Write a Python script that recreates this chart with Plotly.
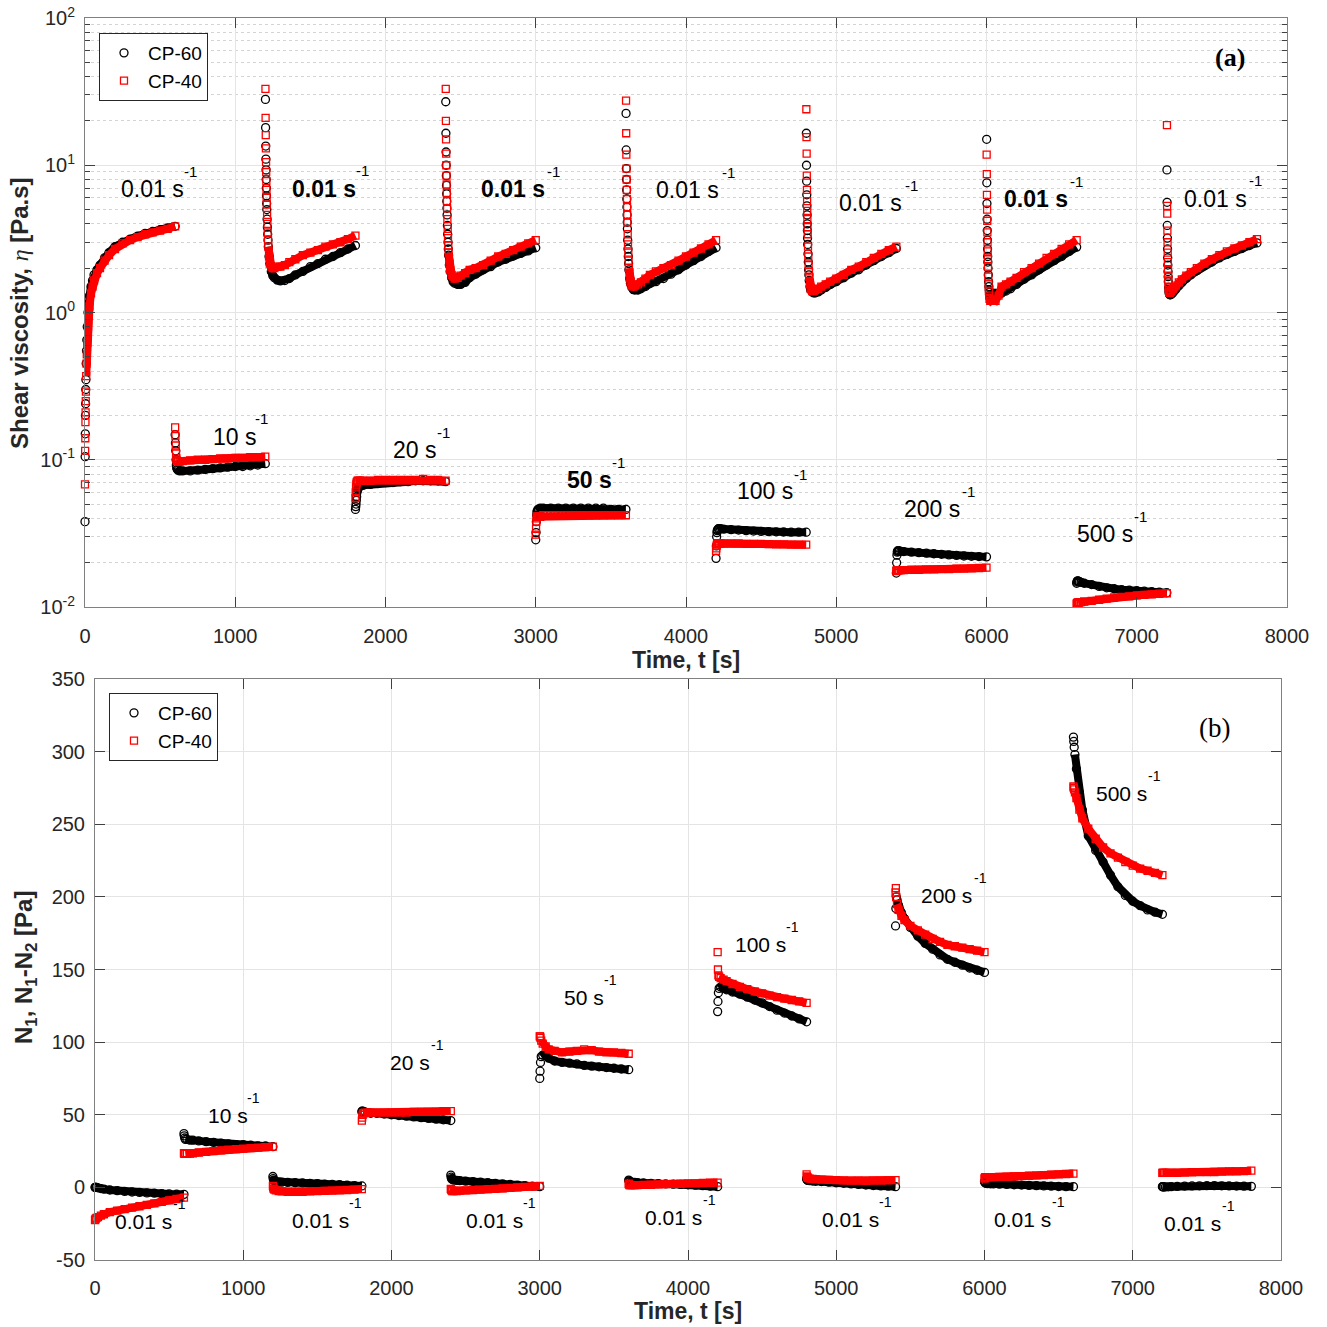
import math
import plotly.graph_objects as go

# ---------------- data ----------------
seg_start = [0, 600, 1200, 1800, 2400, 3000, 3600, 4200, 4800, 5400, 6000, 6600, 7200]

# time offsets (s) inside a segment
off_first = [0, 1, 2, 3, 4, 5, 6, 8, 10, 12, 15, 20, 25, 30, 40, 50, 60, 80, 100, 130, 160,
             200, 250, 300, 350, 400, 450, 500, 550, 600]
off_rec = [1, 2, 3, 4, 5, 6, 7, 8, 9, 10, 12, 14, 16, 18, 20, 25, 30, 40, 50, 60, 80, 100,
           130, 160, 200, 250, 300, 350, 400, 450, 500, 550, 600]
off_high = [0, 2, 4, 6, 8, 10, 15, 20, 30, 50, 100, 150, 200, 250, 300, 350, 400, 450, 500, 550, 600]
off_b = [0, 2, 5, 10, 20, 40, 60, 100, 150, 200, 250, 300, 350, 400, 450, 500, 550, 600]

# (a) shear viscosity [Pa.s]
eta60_0 = [0.038, 0.105, 0.15, 0.20, 0.24, 0.30, 0.35, 0.45, 0.55, 0.65, 0.8, 1.0, 1.15, 1.3, 1.5,
           1.65, 1.8, 1.95, 2.1, 2.35, 2.55, 2.8, 3.0, 3.15, 3.3, 3.45, 3.55, 3.65, 3.75, 3.85]
eta40_0 = [0.068, 0.115, 0.14, 0.18, 0.21, 0.25, 0.29, 0.37, 0.45, 0.52, 0.62, 0.8, 0.95, 1.1, 1.35,
           1.5, 1.65, 1.85, 2.0, 2.25, 2.45, 2.7, 2.95, 3.1, 3.25, 3.4, 3.5, 3.6, 3.7, 3.85]
eta60_1 = [0.148, 0.13, 0.115, 0.1, 0.092, 0.088, 0.086, 0.085, 0.084, 0.084, 0.084, 0.085, 0.086,
           0.087, 0.088, 0.089, 0.09, 0.09, 0.091, 0.092, 0.094]
eta40_1 = [0.166, 0.145, 0.125, 0.11, 0.102, 0.099, 0.098, 0.097, 0.097, 0.098, 0.099, 0.1, 0.1,
           0.101, 0.102, 0.102, 0.103, 0.103, 0.104, 0.104, 0.105]
eta60_2 = [28, 18, 13.5, 11, 9.3, 8, 7, 6.2, 5.5, 5, 4.3, 3.8, 3.4, 3.1, 2.8, 2.4, 2.15, 1.9, 1.78,
           1.72, 1.66, 1.64, 1.65, 1.7, 1.8, 1.9, 2.05, 2.15, 2.3, 2.4, 2.55, 2.7, 2.85]
eta40_2 = [33, 21, 16, 13, 10.5, 9, 7.8, 6.8, 6, 5.4, 4.6, 4, 3.5, 3.1, 2.8, 2.4, 2.15, 2.05, 2.0,
           2.0, 2.05, 2.05, 2.1, 2.2, 2.3, 2.45, 2.55, 2.65, 2.8, 2.9, 3.0, 3.15, 3.33]
eta60_3 = [0.046, 0.048, 0.05, 0.053, 0.056, 0.06, 0.063, 0.065, 0.066, 0.067, 0.068, 0.069, 0.07,
           0.07, 0.071, 0.071, 0.072, 0.072, 0.072, 0.072, 0.071]
eta40_3 = [0.055, 0.06, 0.065, 0.068, 0.07, 0.071, 0.072, 0.072, 0.072, 0.072, 0.072, 0.073, 0.073,
           0.073, 0.073, 0.073, 0.073, 0.074, 0.073, 0.073, 0.072]
eta60_4 = [27, 16.5, 12.3, 10, 8.5, 7.3, 6.4, 5.7, 5.1, 4.6, 3.9, 3.4, 3.0, 2.7, 2.45, 2.1, 1.9, 1.72,
           1.62, 1.58, 1.55, 1.55, 1.6, 1.72, 1.82, 1.95, 2.05, 2.2, 2.3, 2.42, 2.52, 2.62, 2.75]
eta40_4 = [33, 20, 15, 12, 10, 8.5, 7.4, 6.5, 5.7, 5.1, 4.3, 3.7, 3.2, 2.85, 2.55, 2.15, 1.95, 1.8,
           1.75, 1.7, 1.72, 1.78, 1.85, 1.95, 2.0, 2.1, 2.25, 2.4, 2.5, 2.65, 2.8, 2.95, 3.1]
eta60_5 = [0.0286, 0.032, 0.038, 0.042, 0.044, 0.045, 0.046, 0.046, 0.047, 0.047, 0.047, 0.047,
           0.047, 0.047, 0.047, 0.047, 0.047, 0.047, 0.046, 0.046, 0.046]
eta40_5 = [0.031, 0.034, 0.038, 0.04, 0.041, 0.041, 0.041, 0.041, 0.041, 0.042, 0.042, 0.042, 0.042,
           0.042, 0.042, 0.042, 0.042, 0.042, 0.042, 0.042, 0.042]
eta60_6 = [22.5, 12.7, 9.5, 8, 6.8, 5.9, 5.2, 4.6, 4.1, 3.7, 3.1, 2.7, 2.4, 2.15, 1.95, 1.7, 1.58,
           1.48, 1.43, 1.42, 1.42, 1.45, 1.5, 1.58, 1.62, 1.7, 1.82, 1.95, 2.1, 2.25, 2.4, 2.6, 2.75]
eta40_6 = [27.5, 16.5, 11.8, 9.5, 8, 6.8, 5.9, 5.2, 4.6, 4.1, 3.4, 2.9, 2.55, 2.25, 2.0, 1.72, 1.6,
           1.52, 1.5, 1.52, 1.55, 1.6, 1.7, 1.8, 1.9, 2.0, 2.1, 2.25, 2.4, 2.55, 2.72, 2.9, 3.1]
eta60_7 = [0.0214, 0.026, 0.03, 0.032, 0.033, 0.0335, 0.034, 0.034, 0.034, 0.0338, 0.0335, 0.0333,
           0.033, 0.0328, 0.0326, 0.0325, 0.0324, 0.0323, 0.0322, 0.0322, 0.0322]
eta40_7 = [0.024, 0.025, 0.026, 0.0265, 0.0268, 0.027, 0.027, 0.027, 0.027, 0.027, 0.027, 0.027,
           0.0268, 0.0268, 0.0268, 0.0267, 0.0266, 0.0266, 0.0265, 0.0265, 0.0265]
eta60_8 = [16.5, 10, 7.8, 6.3, 5.3, 4.6, 4.0, 3.6, 3.2, 2.9, 2.5, 2.2, 1.95, 1.8, 1.65, 1.5, 1.42,
           1.38, 1.36, 1.36, 1.38, 1.42, 1.48, 1.55, 1.62, 1.72, 1.85, 1.95, 2.1, 2.25, 2.4, 2.55, 2.72]
eta40_8 = [24, 15.5, 12, 8.5, 6.8, 5.7, 4.9, 4.3, 3.8, 3.4, 2.8, 2.4, 2.1, 1.9, 1.75, 1.55, 1.45,
           1.4, 1.4, 1.42, 1.45, 1.5, 1.55, 1.62, 1.7, 1.8, 1.95, 2.05, 2.2, 2.35, 2.5, 2.65, 2.8]
eta60_9 = [0.017, 0.02, 0.0225, 0.0236, 0.024, 0.024, 0.024, 0.024, 0.0239, 0.0238, 0.0236, 0.0234,
           0.0232, 0.023, 0.0228, 0.0226, 0.0224, 0.0222, 0.0221, 0.022, 0.0219]
eta40_9 = [0.0175, 0.0177, 0.0178, 0.0178, 0.0178, 0.0178, 0.0178, 0.0178, 0.0178, 0.0178, 0.0179,
           0.0179, 0.018, 0.018, 0.0181, 0.0181, 0.0182, 0.0182, 0.0183, 0.0184, 0.0185]
eta60_10 = [15, 7.6, 5.5, 4.3, 3.6, 3.1, 2.7, 2.4, 2.2, 2.0, 1.8, 1.62, 1.5, 1.42, 1.37, 1.32, 1.3,
            1.3, 1.32, 1.35, 1.32, 1.35, 1.4, 1.45, 1.55, 1.68, 1.8, 1.95, 2.1, 2.25, 2.4, 2.6, 2.78]
eta40_10 = [11.8, 8.7, 6.3, 5.0, 4.2, 3.5, 3.0, 2.6, 2.3, 2.05, 1.75, 1.55, 1.4, 1.3, 1.24, 1.2, 1.2,
            1.22, 1.2, 1.2, 1.3, 1.5, 1.55, 1.62, 1.72, 1.88, 2.0, 2.15, 2.35, 2.5, 2.7, 2.9, 3.1]
eta60_11 = [0.0145, 0.0148, 0.015, 0.015, 0.015, 0.015, 0.0149, 0.0148, 0.0147, 0.0145, 0.0142,
            0.0138, 0.0135, 0.0133, 0.0131, 0.013, 0.0129, 0.0128, 0.0127, 0.0126, 0.0125]
eta40_11 = [0.0105, 0.0106, 0.0106, 0.0107, 0.0107, 0.0107, 0.0107, 0.0108, 0.0108, 0.0109, 0.011,
            0.0112, 0.0114, 0.0116, 0.0117, 0.0118, 0.012, 0.0121, 0.0122, 0.0123, 0.0124]
eta60_12 = [9.3, 5.6, 3.9, 3.2, 2.7, 2.35, 2.1, 1.9, 1.75, 1.62, 1.48, 1.4, 1.35, 1.33, 1.32, 1.32,
            1.33, 1.36, 1.4, 1.44, 1.52, 1.6, 1.7, 1.8, 1.92, 2.08, 2.2, 2.35, 2.48, 2.6, 2.72, 2.85, 2.97]
eta40_12 = [18.7, 5.3, 4.7, 3.6, 3.0, 2.55, 2.2, 1.95, 1.78, 1.65, 1.5, 1.42, 1.38, 1.36, 1.36, 1.38,
            1.4, 1.44, 1.48, 1.52, 1.6, 1.68, 1.78, 1.88, 2.0, 2.15, 2.3, 2.45, 2.6, 2.72, 2.85, 3.0, 3.15]

# (b) normal stress differences [Pa]
N60_0 = [0, 0, 0, 0, -0.3, -0.8, -1.2, -1.8, -2.3, -2.8, -3.2, -3.5, -3.8, -4.0, -4.3, -4.5, -4.7, -4.8]
N40_0 = [-22.5, -22, -21.5, -21, -20.5, -19.5, -18.5, -17, -16, -15, -14, -13, -12, -11, -10, -9, -8, -7]
N60_1 = [37, 35.5, 34, 33, 33, 32.5, 32.5, 32, 31.5, 31, 30.5, 30, 29.5, 29.5, 29, 28.5, 28.5, 28]
N40_1 = [23.5, 23.5, 23, 23, 23, 23.2, 23.5, 24, 24.5, 25, 25.5, 26, 26.3, 26.7, 27, 27.3, 27.7, 28]
N60_2 = [7.5, 6, 5, 4.5, 4, 3.8, 3.6, 3.4, 3.2, 3, 2.8, 2.6, 2.3, 2, 1.8, 1.5, 1.2, 1]
N40_2 = [1, 0, -1, -1.5, -2, -2.5, -2.8, -3, -3, -3, -2.8, -2.6, -2.4, -2.2, -2, -1.8, -1.5, -1.2]
N60_3 = [52, 52.5, 52.5, 52, 52, 51.5, 51, 51, 50.5, 50, 49.5, 49, 48.5, 48, 47.5, 47, 46.5, 46]
N40_3 = [46, 48, 50, 51, 51.5, 51.5, 51.5, 51.5, 51.5, 51.5, 51.5, 51.5, 52, 52, 52, 52, 52.5, 52.5]
N60_4 = [8.5, 7, 6, 5.5, 5, 4.8, 4.6, 4.3, 4, 3.6, 3.2, 2.8, 2.4, 2, 1.6, 1.2, 0.8, 0.5]
N40_4 = [-1, -1.5, -2, -2.5, -2.5, -2.5, -2.3, -2, -1.8, -1.5, -1.2, -1, -0.7, -0.4, 0, 0.3, 0.6, 1]
N60_5 = [75, 80, 86, 90, 91, 91, 89, 87, 86, 85.5, 85, 84, 83.5, 83, 82.5, 82, 81.5, 81]
N40_5 = [104, 104, 103, 101, 99, 97, 95, 94, 93, 93.5, 94, 95, 94.5, 93.5, 93, 93, 92.5, 92]
N60_6 = [5, 4.5, 4, 3.8, 3.6, 3.4, 3.2, 3, 2.8, 2.6, 2.4, 2.2, 2, 1.8, 1.5, 1.2, 0.8, 0.5]
N40_6 = [2.5, 2, 1.5, 1.5, 1.5, 1.5, 1.6, 1.7, 1.8, 2, 2.2, 2.4, 2.5, 2.7, 2.8, 3, 3.2, 3.3]
N60_7 = [121, 128, 134, 137, 138, 137, 136, 134.5, 133, 131, 129, 127, 124.5, 122, 120, 118, 116, 114]
N40_7 = [162, 150, 146, 145, 144, 143, 142, 140, 138, 136.5, 135, 133.5, 132, 131, 130, 129, 128, 127]
N60_8 = [6, 5.5, 5, 4.8, 4.6, 4.4, 4.2, 4, 3.6, 3.2, 2.8, 2.4, 2, 1.6, 1.3, 1, 0.8, 0.5]
N40_8 = [9, 7.5, 7, 6.5, 6, 5.8, 5.6, 5.4, 5.2, 5, 4.8, 4.7, 4.6, 4.5, 4.6, 4.7, 4.8, 5]
N60_9 = [180, 192, 200, 198, 194, 189, 185, 179, 173, 168, 164, 160, 157, 155, 153, 151, 149.5, 148]
N40_9 = [203, 206, 200, 195, 191, 187, 184, 180, 177, 174, 171, 169, 167, 166, 165, 164, 163, 162]
N60_10 = [4, 3.5, 3, 2.8, 2.6, 2.5, 2.4, 2.2, 2, 1.8, 1.6, 1.4, 1.2, 1, 0.8, 0.6, 0.5, 0.5]
N40_10 = [6, 6.5, 7, 7, 7, 7, 7, 7.2, 7.3, 7.5, 7.7, 8, 8.2, 8.5, 8.8, 9, 9.2, 9.5]
N60_11 = [310, 307, 303, 298, 288, 272, 260, 242, 232, 224, 215, 207, 201, 197, 194, 191, 189.5, 188]
N40_11 = [276, 275, 274, 272, 268, 260, 254, 247, 240, 234, 230, 227, 224, 221.5, 219.5, 218, 216.5, 215]
N60_12 = [0.5, 0.5, 0.3, 0.3, 0.3, 0.4, 0.5, 0.7, 0.9, 1, 1.1, 1.2, 1.2, 1.1, 1, 0.9, 0.8, 0.7]
N40_12 = [10, 10, 10, 10, 10, 10, 10, 10, 10.2, 10.4, 10.5, 10.5, 10.6, 10.8, 11, 11, 11.2, 11.5]

rate_labels = ['0.01 s', '10 s', '0.01 s', '20 s', '0.01 s', '50 s', '0.01 s', '100 s',
               '0.01 s', '200 s', '0.01 s', '500 s', '0.01 s']
x_ticks = [0, 1000, 2000, 3000, 4000, 5000, 6000, 7000, 8000]
y_ticks_a = [0.01, 0.1, 1, 10, 100]
y_ticktext_a = ['10<sup>-2</sup>', '10<sup>-1</sup>', '10<sup>0</sup>', '10<sup>1</sup>', '10<sup>2</sup>']
y_ticks_b = [-50, 0, 50, 100, 150, 200, 250, 300, 350]
y_ticktext_b = ['-50', '0', '50', '100', '150', '200', '250', '300', '350']

eta60 = [eta60_0, eta60_1, eta60_2, eta60_3, eta60_4, eta60_5, eta60_6, eta60_7, eta60_8,
         eta60_9, eta60_10, eta60_11, eta60_12]
eta40 = [eta40_0, eta40_1, eta40_2, eta40_3, eta40_4, eta40_5, eta40_6, eta40_7, eta40_8,
         eta40_9, eta40_10, eta40_11, eta40_12]
N60 = [N60_0, N60_1, N60_2, N60_3, N60_4, N60_5, N60_6, N60_7, N60_8, N60_9, N60_10, N60_11, N60_12]
N40 = [N40_0, N40_1, N40_2, N40_3, N40_4, N40_5, N40_6, N40_7, N40_8, N40_9, N40_10, N40_11, N40_12]

# ---------------- layout helpers (positions / styles) ----------------
FONT = 'Liberation Sans, Arial, sans-serif'
W = H = 1327
BLACK = '#000000'
RED = '#ff0000'

# label placement (time, value) in axis units
lab_a_pos = [(446, 0.840), (992, -0.844), (1591, 0.840), (2196, -0.933), (2849, 0.840),
             (3361, -1.137), (4013, 0.834), (4526, -1.211), (5231, 0.745), (5637, -1.334),
             (6329, 0.772), (6789, -1.503), (7527, 0.772)]
sup_a_pos = [(699, 0.956), (1178, -0.722), (1850, 0.963), (2389, -0.817), (3115, 0.956),
             (3554, -1.021), (4280, 0.949), (4759, -1.103), (5498, 0.861), (5877, -1.218),
             (6596, 0.888), (7028, -1.388), (7793, 0.895)]
bold_a = [False, False, True, False, True, True, False, False, False, False, True, False, False]
lab_b_pos = [(330, -23.4), (897, 49.6), (1518, -22.7), (2125, 86.3), (2698, -22.7), (3298, 130.8),
             (3899, -20.7), (4492, 167.3), (5093, -21.8), (5747, 201), (6253, -21.8), (6927, 271.3),
             (7406, -24.8)]
sup_b_pos = [(573, -11.7), (1072, 61.3), (1754, -11), (2307, 97.8), (2934, -11), (3474, 142.5),
             (4142, -9), (4708, 179), (5329, -10.3), (5970, 212.7), (6496, -10.3), (7150, 283),
             (7643, -13)]


def offs_a(k):
    if k == 0:
        return off_first
    return off_high if k % 2 else off_rec


def thr_a(k):
    if k == 0:
        return 8
    return 10 if k % 2 else 20


def thr_b(k):
    return 10 if k % 2 else 0


fig = go.Figure()


def add_series(series, offs_fn, thr_fn, color, symbol, msize, name, xa, ya, legend):
    for k, vals in enumerate(series):
        offs = offs_fn(k)
        t = [seg_start[k] + o for o in offs]
        th = thr_fn(k)
        tb = [ti for ti, o in zip(t, offs) if o >= th]
        vb = [v for v, o in zip(vals, offs) if o >= th]
        fig.add_trace(go.Scatter(x=tb, y=vb, mode='lines', xaxis=xa, yaxis=ya,
                                 line=dict(color=color, width=8), showlegend=False,
                                 hoverinfo='skip', cliponaxis=False))
        fig.add_trace(go.Scatter(x=t, y=vals, mode='markers', xaxis=xa, yaxis=ya, name=name,
                                 marker=dict(symbol=symbol, size=msize, color=color,
                                             line=dict(color=color, width=1.3)),
                                 showlegend=(k == 0), legend=legend, cliponaxis=False))


add_series(eta60, offs_a, thr_a, BLACK, 'circle-open', 8, 'CP-60', 'x', 'y', 'legend')
add_series(eta40, offs_a, thr_a, RED, 'square-open', 7, 'CP-40', 'x', 'y', 'legend')
add_series(N60, lambda k: off_b, thr_b, BLACK, 'circle-open', 8, 'CP-60', 'x2', 'y2', 'legend2')
add_series(N40, lambda k: off_b, thr_b, RED, 'square-open', 7, 'CP-40', 'x2', 'y2', 'legend2')

axis_common = dict(showline=True, linecolor='#808080', linewidth=1, mirror='allticks',
                   ticks='inside', ticklen=10, tickwidth=1, tickcolor='#404040',
                   showgrid=True, gridcolor='#e4e4e4', gridwidth=1, zeroline=False,
                   automargin=False,
                   tickfont=dict(family=FONT, size=20, color='#262626'))

minor_vals = [m * 10 ** e for e in range(-2, 2) for m in range(2, 10)]

annotations = []
for k in range(13):
    txt = rate_labels[k]
    if bold_a[k]:
        txt = '<b>' + txt + '</b>'
    annotations.append(dict(x=lab_a_pos[k][0], y=lab_a_pos[k][1], xref='x', yref='y', text=txt,
                            showarrow=False, xanchor='center', yanchor='middle',
                            font=dict(family=FONT, size=23, color='black')))
    annotations.append(dict(x=sup_a_pos[k][0], y=sup_a_pos[k][1], xref='x', yref='y', text='-1',
                            showarrow=False, xanchor='center', yanchor='middle',
                            font=dict(family=FONT, size=15, color='black')))
    annotations.append(dict(x=lab_b_pos[k][0], y=lab_b_pos[k][1], xref='x2', yref='y2',
                            text=rate_labels[k], showarrow=False, xanchor='center', yanchor='middle',
                            font=dict(family=FONT, size=21, color='black')))
    annotations.append(dict(x=sup_b_pos[k][0], y=sup_b_pos[k][1], xref='x2', yref='y2', text='-1',
                            showarrow=False, xanchor='center', yanchor='middle',
                            font=dict(family=FONT, size=14, color='black')))

xt_font = dict(family=FONT, size=23, color='#262626')
yt_font = dict(family=FONT, size=24, color='#262626')
annotations += [
    dict(x=686 / W, y=1 - 660 / H, xref='paper', yref='paper', text='<b>Time, t [s]</b>',
         showarrow=False, xanchor='center', yanchor='middle', font=xt_font),
    dict(x=688 / W, y=1 - 1311 / H, xref='paper', yref='paper', text='<b>Time, t [s]</b>',
         showarrow=False, xanchor='center', yanchor='middle', font=xt_font),
    dict(x=20 / W, y=1 - 313 / H, xref='paper', yref='paper', textangle=-90,
         text='<b>Shear viscosity, </b><span style="font-family:Liberation Serif"><i>η</i></span><b> [Pa.s]</b>',
         showarrow=False, xanchor='center', yanchor='middle', font=yt_font),
    dict(x=25 / W, y=1 - 968 / H, xref='paper', yref='paper', textangle=-90,
         text='<b>N<sub>1</sub>, N<sub>1</sub>-N<sub>2</sub> [Pa]</b>',
         showarrow=False, xanchor='center', yanchor='middle', font=yt_font),
    dict(x=1230 / W, y=1 - 58 / H, xref='paper', yref='paper', text='<b>(a)</b>',
         showarrow=False, xanchor='center', yanchor='middle',
         font=dict(family='Liberation Serif, Times New Roman, serif', size=26, color='black')),
    dict(x=1214 / W, y=1 - 728 / H, xref='paper', yref='paper', text='(b)',
         showarrow=False, xanchor='center', yanchor='middle',
         font=dict(family='Liberation Serif, Times New Roman, serif', size=27, color='black')),
]

legend_style = dict(xanchor='left', yanchor='top', bgcolor='white', bordercolor='#262626',
                    borderwidth=1, font=dict(family=FONT, size=19, color='black'),
                    tracegroupgap=0, itemwidth=38)

fig.update_layout(
    width=W, height=H, autosize=False,
    margin=dict(l=0, r=0, t=0, b=0, pad=0, autoexpand=False),
    paper_bgcolor='white', plot_bgcolor='white',
    xaxis=dict(domain=[85 / W, 1287 / W], range=[0, 8000], tickvals=x_ticks, anchor='y',
               ticklabelstandoff=11, **axis_common),
    yaxis=dict(domain=[1 - 607 / H, 1 - 18 / H], type='log', range=[-2, 2], tickvals=y_ticks_a,
               ticktext=y_ticktext_a, anchor='x', ticklabelstandoff=5,
               minor=dict(tickvals=minor_vals, ticks='inside', ticklen=5, tickcolor='#404040',
                          showgrid=True, gridcolor='#d4d4d4', griddash='dot'),
               **axis_common),
    xaxis2=dict(domain=[95 / W, 1281 / W], range=[0, 8000], tickvals=x_ticks, anchor='y2',
                ticklabelstandoff=10, **axis_common),
    yaxis2=dict(domain=[1 - 1260 / H, 1 - 679 / H], range=[-50, 350], tickvals=y_ticks_b,
                ticktext=y_ticktext_b, anchor='x2', ticklabelstandoff=5, **axis_common),
    legend=dict(x=99 / W, y=1 - 33 / H, **legend_style),
    legend2=dict(x=109 / W, y=1 - 693 / H, **legend_style),
    annotations=annotations,
    showlegend=True,
)

fig.write_html('out.html', config={'displayModeBar': False},
               post_script="document.body.style.margin='0';document.body.style.padding='0';"
                           "document.documentElement.style.overflow='hidden';")
